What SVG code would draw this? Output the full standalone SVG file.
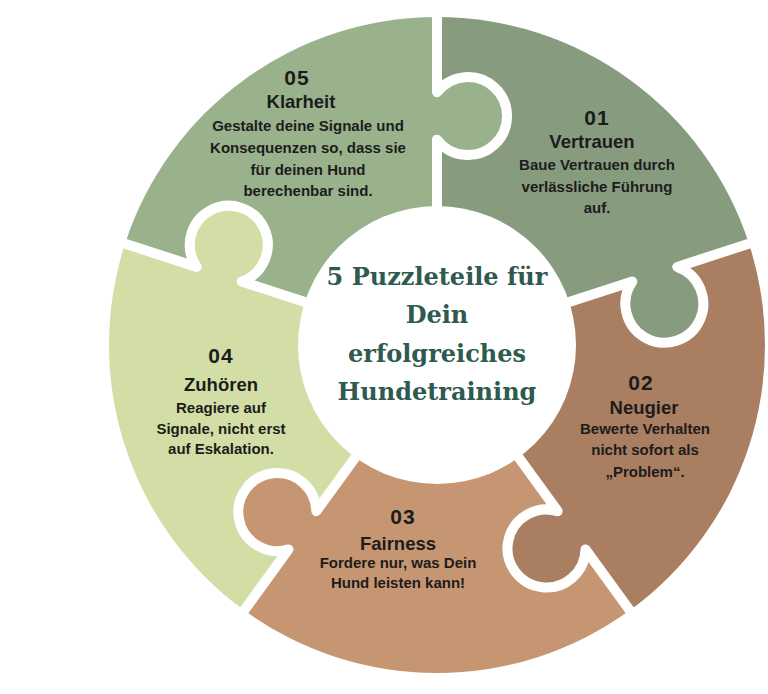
<svg xmlns="http://www.w3.org/2000/svg" width="768" height="694" viewBox="0 0 768 694">
<style>
.num{font-family:"Liberation Sans",Arial,sans-serif;font-weight:700;font-size:21px;fill:#1c1c1c;text-anchor:middle;letter-spacing:1px}
.hd{font-family:"Liberation Sans",Arial,sans-serif;font-weight:700;font-size:18.5px;fill:#1c1c1c;text-anchor:middle}
.bd{font-family:"Liberation Sans",Arial,sans-serif;font-weight:700;font-size:15px;fill:#1c1c1c;text-anchor:middle}
.ttl{font-family:"DejaVu Serif","Liberation Serif",serif;font-weight:700;font-size:24px;fill:#2e5a4f;text-anchor:middle}
.seam{fill:none;stroke:#ffffff;stroke-width:10;stroke-linejoin:round}
.c1{fill:#879b7f}.c2{fill:#a97e61}.c3{fill:#c69673}.c4{fill:#d2dea6}.c5{fill:#99b28c}
</style>
<defs>
<circle id="knob" cx="229" cy="31" r="39"/>
<path id="seamPath" d="M100 0 L205.34 0 A39 39 0 1 0 252.66 0 L345 0"/>
</defs>
<rect width="768" height="694" fill="#ffffff"/>
<g id="piece-01">
<path class="c1" d="M437 345 L437 17 A328 328 0 0 1 748.95 243.64 Z"/>
</g>
<g id="piece-02">
<path class="c2" d="M437 345 L748.95 243.64 A328 328 0 0 1 629.79 610.36 Z"/>
</g>
<g id="piece-03">
<path class="c3" d="M437 345 L629.79 610.36 A328 328 0 0 1 244.21 610.36 Z"/>
</g>
<g id="piece-04">
<path class="c4" d="M437 345 L244.21 610.36 A328 328 0 0 1 125.05 243.64 Z"/>
</g>
<g id="piece-05">
<path class="c5" d="M437 345 L125.05 243.64 A328 328 0 0 1 437 17 Z"/>
</g>
<g id="knobs">
<use href="#knob" class="c5" transform="translate(437 345) rotate(-90)"/>
<use href="#knob" class="c1" transform="translate(437 345) rotate(-18)"/>
<use href="#knob" class="c2" transform="translate(437 345) rotate(54)"/>
<use href="#knob" class="c3" transform="translate(437 345) rotate(126)"/>
<use href="#knob" class="c4" transform="translate(437 345) rotate(198)"/>
</g>
<g id="connectors">
<use href="#seamPath" class="seam" transform="translate(437 345) rotate(-90)"/>
<use href="#seamPath" class="seam" transform="translate(437 345) rotate(-18)"/>
<use href="#seamPath" class="seam" transform="translate(437 345) rotate(54)"/>
<use href="#seamPath" class="seam" transform="translate(437 345) rotate(126)"/>
<use href="#seamPath" class="seam" transform="translate(437 345) rotate(198)"/>
</g>
<g id="center">
<circle cx="437" cy="345" r="139" fill="#ffffff"/>
<text class="ttl" x="437" y="285">5 Puzzleteile für</text>
<text class="ttl" x="437" y="323">Dein</text>
<text class="ttl" x="437" y="362">erfolgreiches</text>
<text class="ttl" x="437" y="400">Hundetraining</text>
</g>
<g id="text-01">
<text class="num" x="597" y="125">01</text>
<text class="hd" x="592" y="148">Vertrauen</text>
<text class="bd" x="597" y="170">Baue Vertrauen durch</text>
<text class="bd" x="597" y="192">verlässliche Führung</text>
<text class="bd" x="597" y="213">auf.</text>
</g>
<g id="text-02">
<text class="num" x="641" y="390">02</text>
<text class="hd" x="644" y="414">Neugier</text>
<text class="bd" x="645" y="434">Bewerte Verhalten</text>
<text class="bd" x="645" y="455">nicht sofort als</text>
<text class="bd" x="645" y="477">„Problem“.</text>
</g>
<g id="text-03">
<text class="num" x="403" y="524">03</text>
<text class="hd" x="398" y="550">Fairness</text>
<text class="bd" x="398" y="568">Fordere nur, was Dein</text>
<text class="bd" x="398" y="588">Hund leisten kann!</text>
</g>
<g id="text-04">
<text class="num" x="221" y="363">04</text>
<text class="hd" x="221" y="391">Zuhören</text>
<text class="bd" x="221" y="413">Reagiere auf</text>
<text class="bd" x="221" y="434">Signale, nicht erst</text>
<text class="bd" x="221" y="454">auf Eskalation.</text>
</g>
<g id="text-05">
<text class="num" x="297" y="85">05</text>
<text class="hd" x="301" y="108">Klarheit</text>
<text class="bd" x="308" y="131">Gestalte deine Signale und</text>
<text class="bd" x="308" y="153">Konsequenzen so, dass sie</text>
<text class="bd" x="308" y="175">für deinen Hund</text>
<text class="bd" x="308" y="196">berechenbar sind.</text>
</g>
</svg>
